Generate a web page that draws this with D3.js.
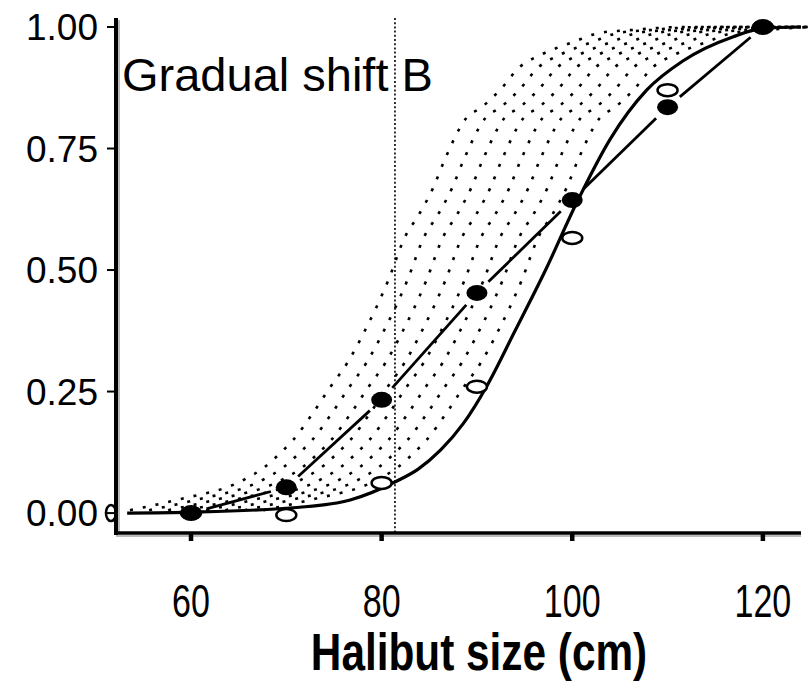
<!DOCTYPE html>
<meta charset="utf-8">
<style>
body { margin: 0; background: #fff; }
.ylab { font: 37px "Liberation Sans", Arial, sans-serif; text-anchor: end; }
.xlab { font: 46px "Liberation Sans", Arial, sans-serif; text-anchor: middle; }
.xtitle { font: bold 51px "Liberation Sans", Arial, sans-serif; text-anchor: middle; }
.panel { font: 47px "Liberation Sans", Arial, sans-serif; }
</style>
<svg width="808" height="692"></svg>
<script src="https://d3js.org/d3.v7.min.js"></script>
<script>
  // observed proportions (filled and open symbols)
  var sizes = [60, 70, 80, 90, 100, 110, 120];
  var filled = [0.0, 0.053, 0.233, 0.453, 0.644, 0.835, 1.0];
  var open = [0.0, -0.004, 0.062, 0.26, 0.566, 0.87, 1.0];
  // extra open symbol half hidden by the y axis
  var openEdgeX = [51.6], openEdgeY = [0.0];

  // fitted curve (solid)
  var fitX = [53.3, 60, 71.4, 76.7, 81.6, 83.8, 86.2, 88.6, 91, 94, 97.2, 100.5, 104, 107.8, 111.6, 116.9, 120, 124];
  var fitY = [0.0, 0.002, 0.012, 0.027, 0.066, 0.09, 0.13, 0.185, 0.26, 0.375, 0.5, 0.64, 0.77, 0.87, 0.93, 0.98, 0.997, 1.0];

  // leftmost shifted curve (dotted); the others are the same curve moved right
  var shiftX = [53.6, 58.5, 65.5, 67.6, 69.5, 70.7, 72.8, 74.6, 76.4, 78.0, 80.7, 82.4, 84.0, 85.4, 86.6, 88.9, 90.5, 92.4, 94.5, 96.6, 100.1, 102.9, 106.4, 111.6, 124];
  var shiftY = [0.006, 0.027, 0.068, 0.093, 0.126, 0.15, 0.206, 0.259, 0.309, 0.366, 0.479, 0.566, 0.617, 0.669, 0.726, 0.813, 0.835, 0.87, 0.918, 0.942, 0.969, 0.988, 0.994, 1.0, 1.0];
  var shifts = [0, 2, 4, 6, 8, 10, 12, 14];

  var refSize = 81.4;   // vertical dotted reference line
  var xTicks = [60, 80, 100, 120];
  var yTicks = [0, 0.25, 0.5, 0.75, 1];

  var svg = d3.select("svg"),
      margin = {top: 18, left: 116},
      w = 685, h = 515;

  var x = d3.scaleLinear().domain([52.13, 124.0]).range([margin.left, margin.left + w]);
  var y = d3.scaleLinear().domain([-0.041, 1.0185]).range([margin.top + h, margin.top]);

  svg.append("defs").append("clipPath").attr("id", "clip")
    .append("rect").attr("x", margin.left).attr("y", 0).attr("width", w + 10).attr("height", margin.top + h);

  var plot = svg.append("g").attr("clip-path", "url(#clip)");

  var line = d3.line()
      .x(function(d) { return x(d[0]); })
      .y(function(d) { return y(d[1]); })
      .curve(d3.curveMonotoneX);

  var leftCurve = shiftX.map(function(v, i) { return [v, shiftY[i]]; });

  // dotted band of shifted curves
  plot.selectAll(".band").data(shifts).enter()
    .append("path")
    .attr("class", "band")
    .attr("d", line(leftCurve))
    .attr("transform", function(s) { return "translate(" + (x(52.13 + s) - x(52.13)) + ",0)"; })
    .attr("fill", "none")
    .attr("stroke", "#000")
    .attr("stroke-width", 2.6)
    .attr("stroke-dasharray", "3,10");

  // reference line
  svg.append("line")
    .attr("x1", x(refSize)).attr("x2", x(refSize))
    .attr("y1", margin.top).attr("y2", margin.top + h)
    .attr("stroke", "#000").attr("stroke-width", 1.6)
    .attr("stroke-dasharray", "2,2.2");

  // fitted solid curve
  plot.append("path")
    .attr("d", line(fitX.map(function(v, i) { return [v, fitY[i]]; })))
    .attr("fill", "none")
    .attr("stroke", "#000")
    .attr("stroke-width", 3.2);

  // line joining filled symbols, with gaps round the symbols
  var gap = 16;
  for (var i = 0; i < sizes.length - 1; i++) {
    var x0 = x(sizes[i]), y0 = y(filled[i]), x1 = x(sizes[i + 1]), y1 = y(filled[i + 1]);
    var len = Math.sqrt((x1 - x0) * (x1 - x0) + (y1 - y0) * (y1 - y0));
    if (len < 2 * gap + 4) continue;
    var ux = (x1 - x0) / len, uy = (y1 - y0) / len;
    plot.append("line")
      .attr("x1", x0 + ux * gap).attr("y1", y0 + uy * gap)
      .attr("x2", x1 - ux * gap).attr("y2", y1 - uy * gap)
      .attr("stroke", "#000").attr("stroke-width", 2.8);
  }

  // open symbols
  svg.selectAll(".open").data(sizes.map(function(v, i) { return [v, open[i]]; })
      .concat(openEdgeX.map(function(v, i) { return [v, openEdgeY[i]]; })))
    .enter().append("ellipse")
    .attr("class", "open")
    .attr("cx", function(d) { return x(d[0]); })
    .attr("cy", function(d) { return y(d[1]); })
    .attr("rx", function(d) { return d[0] < 55 ? 5 : 10; })
    .attr("ry", function(d) { return d[0] < 55 ? 8 : 6; })
    .attr("fill", "#fff").attr("stroke", "#000").attr("stroke-width", 2.5);

  // filled symbols
  svg.selectAll(".filled").data(sizes.map(function(v, i) { return [v, filled[i]]; }))
    .enter().append("ellipse")
    .attr("class", "filled")
    .attr("cx", function(d) { return x(d[0]); })
    .attr("cy", function(d) { return y(d[1]); })
    .attr("rx", 10.5).attr("ry", 8)
    .attr("fill", "#000");

  // axes
  svg.append("rect").attr("x", margin.left + 2).attr("y", y(0) - 10)
    .attr("width", 8).attr("height", 20).attr("fill", "#fff");
  svg.append("line").attr("x1", margin.left + 3).attr("x2", margin.left + 3)
    .attr("y1", margin.top + 2).attr("y2", margin.top + h)
    .attr("stroke", "#bbb").attr("stroke-width", 2);
  svg.append("line").attr("x1", margin.left).attr("x2", margin.left + w)
    .attr("y1", margin.top + h + 3).attr("y2", margin.top + h + 3)
    .attr("stroke", "#bbb").attr("stroke-width", 2);
  svg.append("line").attr("x1", margin.left).attr("x2", margin.left)
    .attr("y1", margin.top).attr("y2", margin.top + h + 2)
    .attr("stroke", "#000").attr("stroke-width", 4);
  svg.append("line").attr("x1", margin.left - 2).attr("x2", margin.left + w)
    .attr("y1", margin.top + h).attr("y2", margin.top + h)
    .attr("stroke", "#000").attr("stroke-width", 3.5);

  svg.selectAll(".ytick").data(yTicks).enter().append("line")
    .attr("x1", margin.left - 9).attr("x2", margin.left)
    .attr("y1", function(d) { return y(d); }).attr("y2", function(d) { return y(d); })
    .attr("stroke", "#000").attr("stroke-width", 2);
  svg.selectAll(".ylab").data(yTicks).enter().append("text")
    .attr("class", "ylab")
    .attr("x", margin.left - 18)
    .attr("y", function(d) { return y(d); })
    .attr("dy", "0.36em")
    .text(d3.format(".2f"));

  svg.selectAll(".xtick").data(xTicks).enter().append("line")
    .attr("x1", function(d) { return x(d); }).attr("x2", function(d) { return x(d); })
    .attr("y1", margin.top + h).attr("y2", margin.top + h + 8)
    .attr("stroke", "#000").attr("stroke-width", 4.5);
  // condensed tick labels
  svg.selectAll(".xlab").data(xTicks).enter().append("text")
    .attr("class", "xlab")
    .attr("transform", function(d) { return "translate(" + x(d) + ",617) scale(0.74,1)"; })
    .text(function(d) { return d; });

  svg.append("text").attr("class", "xtitle")
    .attr("transform", "translate(479,670) scale(0.83,1)")
    .text("Halibut size (cm)");

  svg.append("text").attr("class", "panel")
    .attr("x", 122).attr("y", 91)
    .text("Gradual shift B");
</script>
